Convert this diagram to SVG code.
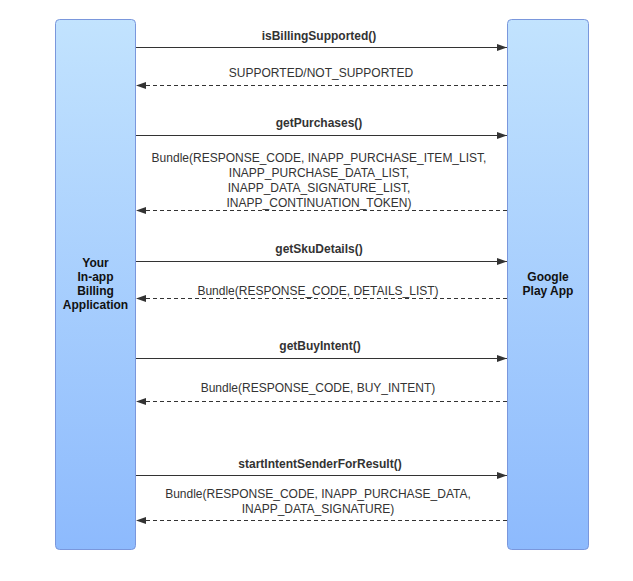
<svg xmlns="http://www.w3.org/2000/svg" width="633" height="581" viewBox="0 0 633 581">
<defs>
<linearGradient id="g" x1="0" y1="0" x2="0" y2="1">
<stop offset="0" stop-color="#c2e3fe"/>
<stop offset="1" stop-color="#8dbafd"/>
</linearGradient>
<marker id="ah" viewBox="0 0 10 10" refX="10" refY="5" markerWidth="10" markerHeight="10" markerUnits="userSpaceOnUse" orient="auto">
<path d="M0,1.5 L10,5 L0,8.5 Z" fill="#333"/>
</marker>
<style>
.box{fill:url(#g);stroke:#7a97dc;stroke-width:1}
.t{font-family:"Liberation Sans",Arial,sans-serif;font-size:12px;fill:#333;text-anchor:middle}
.b{font-weight:bold}
.n{font-family:"Liberation Sans",Arial,sans-serif;font-size:12px;font-weight:bold;fill:#111;text-anchor:middle}
.call{stroke:#333;stroke-width:1;fill:none;marker-end:url(#ah)}
.ret{stroke:#333;stroke-width:1;fill:none;stroke-dasharray:4 3;marker-end:url(#ah)}
</style>
</defs>
<rect width="633" height="581" fill="#fff"/>
<g id="app">
<rect class="box" x="55.5" y="19.5" width="80" height="530" rx="4"/>
<text class="n" x="95.5" y="267">Your</text>
<text class="n" x="95.5" y="281">In-app</text>
<text class="n" x="95.5" y="295">Billing</text>
<text class="n" x="95.5" y="309">Application</text>
</g>
<g id="play">
<rect class="box" x="507.5" y="19.5" width="81" height="530" rx="4"/>
<text class="n" x="548" y="281">Google</text>
<text class="n" x="548" y="295">Play App</text>
</g>
<g id="connectors">
<line class="call" x1="136" y1="47.5" x2="507" y2="47.5"/>
<text class="t b" x="319" y="40">isBillingSupported()</text>
<line class="ret" x1="507" y1="85.5" x2="136" y2="85.5"/>
<text class="t" x="321" y="77">SUPPORTED/NOT_SUPPORTED</text>
<line class="call" x1="136" y1="135.5" x2="507" y2="135.5"/>
<text class="t b" x="319" y="127">getPurchases()</text>
<line class="ret" x1="507" y1="210.5" x2="136" y2="210.5"/>
<text class="t" x="319" y="162">Bundle(RESPONSE_CODE, INAPP_PURCHASE_ITEM_LIST,</text>
<text class="t" x="319" y="177">INAPP_PURCHASE_DATA_LIST,</text>
<text class="t" x="319" y="192">INAPP_DATA_SIGNATURE_LIST,</text>
<text class="t" x="319" y="206.5">INAPP_CONTINUATION_TOKEN)</text>
<line class="call" x1="136" y1="261.5" x2="507" y2="261.5"/>
<text class="t b" x="319" y="253">getSkuDetails()</text>
<line class="ret" x1="507" y1="298.5" x2="136" y2="298.5"/>
<text class="t" x="318" y="295">Bundle(RESPONSE_CODE, DETAILS_LIST)</text>
<line class="call" x1="136" y1="358.5" x2="507" y2="358.5"/>
<text class="t b" x="320" y="350">getBuyIntent()</text>
<line class="ret" x1="507" y1="401.5" x2="136" y2="401.5"/>
<text class="t" x="318" y="392">Bundle(RESPONSE_CODE, BUY_INTENT)</text>
<line class="call" x1="136" y1="475.5" x2="507" y2="475.5"/>
<text class="t b" x="320" y="468">startIntentSenderForResult()</text>
<line class="ret" x1="507" y1="520.5" x2="136" y2="520.5"/>
<text class="t" x="318" y="498">Bundle(RESPONSE_CODE, INAPP_PURCHASE_DATA,</text>
<text class="t" x="318" y="513">INAPP_DATA_SIGNATURE)</text>
</g>
</svg>
